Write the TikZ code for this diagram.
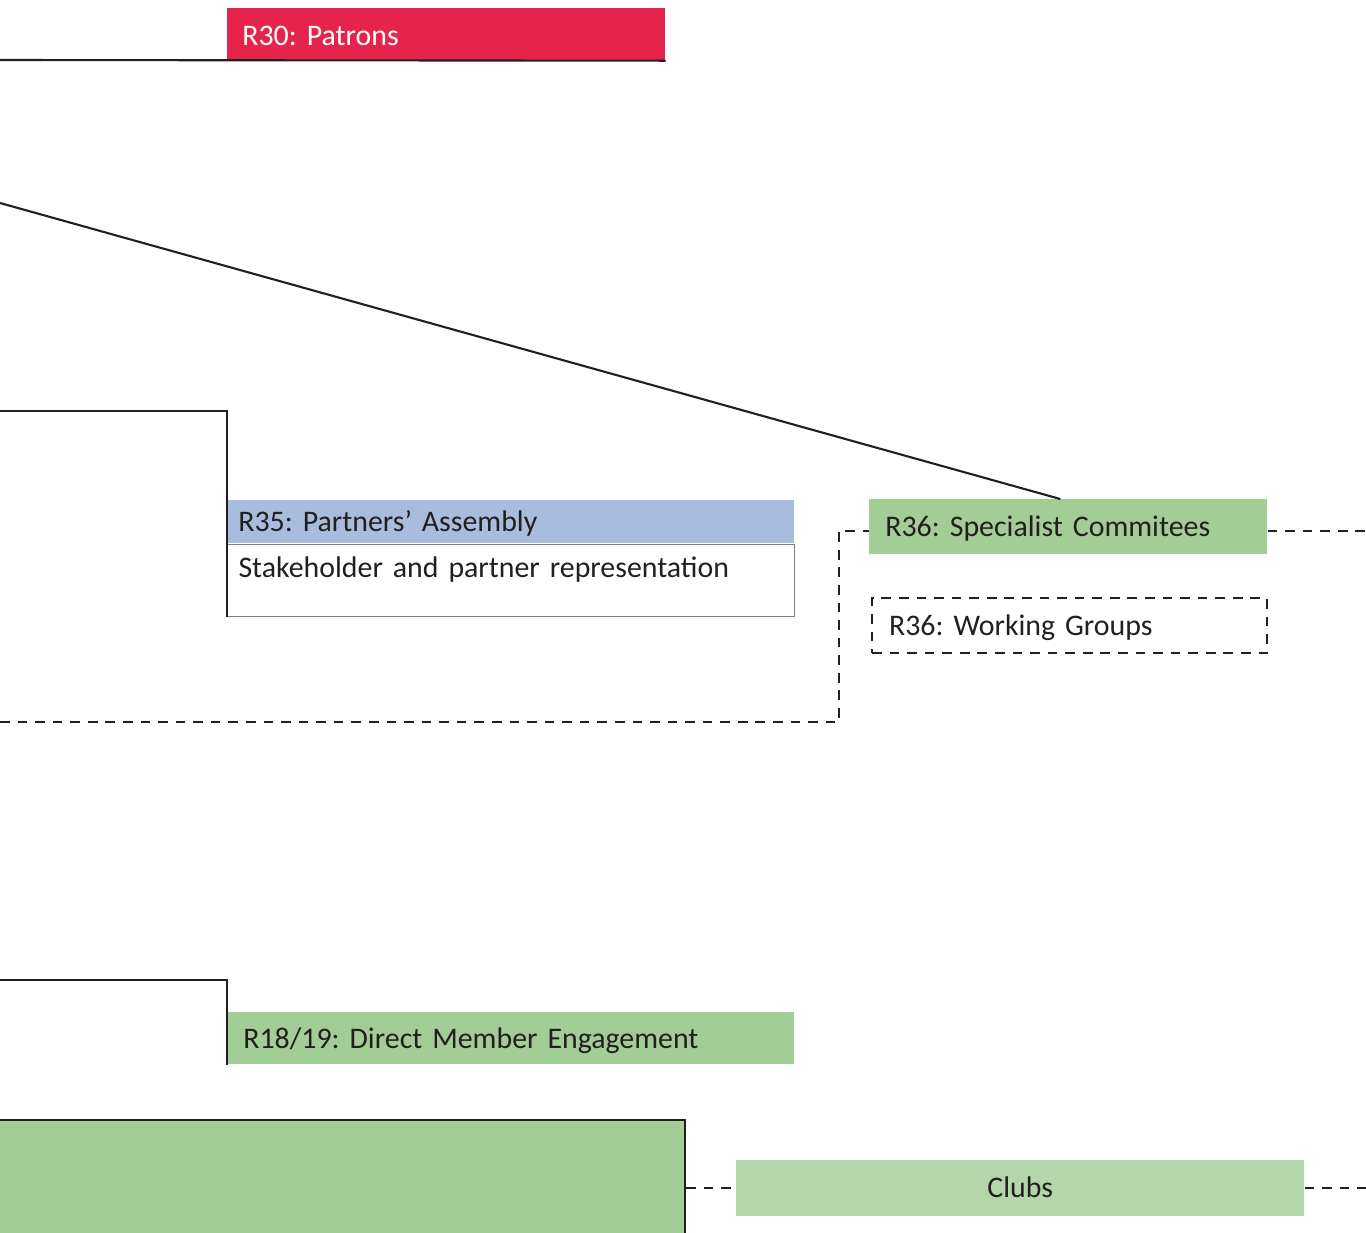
\documentclass[tikz,border=0pt]{standalone}
\usepackage{fontspec}
\setmainfont{Carlito}[WordSpace=0.8]
\usetikzlibrary{calc}
\usetikzlibrary{positioning}
\definecolor{patronred}{HTML}{E6234B}
\definecolor{partnerblue}{HTML}{A8BDDE}
\definecolor{memgreen}{HTML}{A2CD96}
\definecolor{clubgreen}{HTML}{B3D6AB}
\definecolor{inkgray}{HTML}{231F20}
\tikzset{Box/.style={rectangle, inner ysep=0pt, anchor=north west, align=left, text=inkgray, font=\fontsize{17}{20}\selectfont},
         Link/.style={draw=inkgray, line width=1.2pt},
         DashLink/.style={draw=inkgray, line width=1.2pt, dash pattern=on 5.5pt off 4.5pt}}

\begin{document}
\frenchspacing
\begin{tikzpicture}[x=0.02cm, y=-0.02cm]
  \useasboundingbox (0,0) rectangle (1366,1232);
  \coordinate (P0) at (0,60);
  \coordinate (P1) at (0,203);
  \coordinate (P2) at (0,411);
  \coordinate (P3) at (0,722);
  \coordinate (P4) at (0,980);
  \coordinate (RE) at (1366,0);
  \node[Box, fill=patronred, text=white, inner xsep=0.3cm, text width=8.16cm, text height=0.74cm, text depth=0.3cm] (R30) at (227,8) {R30: Patrons};
  \node[Box, fill=partnerblue, inner xsep=0.22cm, text width=10.9cm, text height=0.62cm, text depth=0.24cm] (R35) at (227,500) {R35: Partners’ Assembly};
  \node[Box, draw=gray, line width=0.6pt, inner xsep=0.22cm, text width=10.9cm, text height=0.66cm, text depth=0.78cm] (R35b) at (R35.south west) {Stakeholder and partner representation};
  \node[Box, fill=memgreen, inner xsep=0.32cm, text width=7.32cm, text height=0.74cm, text depth=0.36cm] (R36) at (869,499) {R36: Specialist Commitees};
  \node[Box, DashLink, inner xsep=0.34cm, text width=7.22cm, text height=0.74cm, text depth=0.36cm] (R36w) at (871,597) {R36: Working Groups};
  \node[Box, fill=memgreen, inner xsep=0.32cm, text width=10.7cm, text height=0.72cm, text depth=0.32cm] (R18) at (227,1012) {R18/19: Direct Member Engagement};
  \node[Box, anchor=north east, fill=memgreen, Link, minimum width=14cm, minimum height=2.6cm] (Mem) at (686,1119) {};
  \node[Box, fill=clubgreen, align=center, inner xsep=0cm, text width=11.36cm, text height=0.74cm, text depth=0.38cm] (Clubs) at (736,1160) {Clubs};

  \draw[Link] (P0) -- (R30.south east);
  \draw[Link] (P1) -- ([xshift=-0.16cm]R36.north);
  \draw[Link] (P2) -| (R35b.south west);
  \draw[Link] (P4) -| (R18.south west);
  \draw[DashLink] (P3) -- (839,722) |- ([yshift=-0.08cm]R36.west);
  \draw[DashLink] ([yshift=-0.08cm]R36.east) -- ([yshift=-0.08cm]R36.east -| RE);
  \draw[DashLink] (Clubs.west -| Mem.east) -- (Clubs.west);
  \draw[DashLink] (Clubs.east) -- (Clubs.east -| RE);
\end{tikzpicture}
\end{document}
